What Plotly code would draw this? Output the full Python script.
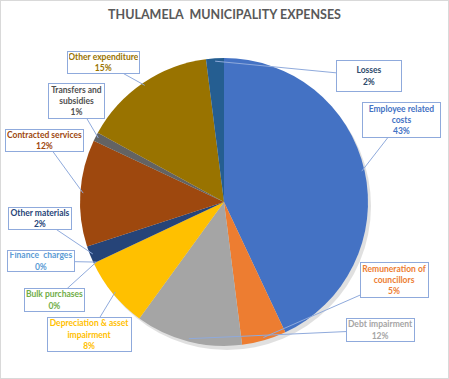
import math
import plotly.graph_objects as go

W, H = 449, 379

labels = ["Employee related costs", "Remuneration of councillors", "Debt impairment",
          "Depreciation & asset impairment", "Bulk purchases", "Finance charges",
          "Other materials", "Contracted services", "Transfers and subsidies",
          "Other expenditure", "Losses"]
values = [43, 5, 12, 8, 0, 0, 2, 12, 1, 15, 2]
colors = ["#4472C4", "#ED7D31", "#A5A5A5", "#FFC000", "#70AD47", "#5B9BD5",
          "#264478", "#9E480E", "#636363", "#997300", "#255E91"]
text_colors = ["#4472C4", "#ED7D31", "#A5A5A5", "#FFC000", "#70AD47", "#5B9BD5",
               "#264478", "#9E480E", "#505050", "#997300", "#2E4A6B"]
box_text = ["Employee related<br>costs", "Remuneration of<br>councillors", "Debt impairment",
            "Depreciation & asset<br>impairment", "Bulk purchases", "Finance  charges",
            "Other materials", "Contracted services", "Transfers and<br>subsidies",
            "Other expenditure", "Losses"]
# box centre (px) and size (px) - layout
boxes = [(401.5, 120, 79, 36), (394.5, 280, 69, 36), (380.5, 330, 69, 24),
         (89.5, 334.5, 85, 35), (54.5, 300, 61, 24), (41, 261, 68, 22),
         (40, 218.5, 64, 23), (44.5, 140, 79, 23), (76.5, 101, 57, 36),
         (103.5, 62.5, 73, 23), (369, 76, 66, 32)]

cx, cy, r = 224, 202, 144

fig = go.Figure()
# shadow
fig.add_trace(go.Pie(values=[1], marker=dict(colors=["rgba(0,0,0,0.12)"], line=dict(width=0)),
                     textinfo="none", hoverinfo="skip", showlegend=False, sort=False,
                     domain=dict(x=[(cx - r + 3) / W, (cx + r + 3) / W],
                                 y=[1 - (cy + r + 4) / H, 1 - (cy - r + 4) / H])))
fig.add_trace(go.Pie(labels=labels, values=values, sort=False, direction="clockwise",
                     rotation=0, marker=dict(colors=colors, line=dict(width=0)),
                     textinfo="none", showlegend=False,
                     domain=dict(x=[(cx - r) / W, (cx + r) / W],
                                 y=[1 - (cy + r) / H, 1 - (cy - r) / H])))

total = sum(values)
cum = 0
annotations = []
for i, v in enumerate(values):
    mid = (cum + v / 2) / total
    cum += v
    ang = 2 * math.pi * mid
    tx = cx + r * 0.98 * math.sin(ang)
    ty = cy - r * 0.98 * math.cos(ang)
    bx, by, bw, bh = boxes[i]
    pct = round(100 * v / total)
    annotations.append(dict(
        x=tx / W, y=1 - ty / H, xref="paper", yref="paper",
        ax=bx - tx, ay=by - ty, axref="pixel", ayref="pixel",
        text=f"<b>{box_text[i]}<br>{pct}%</b>",
        showarrow=True, arrowhead=0, arrowwidth=1, arrowcolor="#8FAADC", standoff=0,
        bordercolor="#8FAADC", borderwidth=1, borderpad=1, bgcolor="white",
        width=bw - 4, height=bh - 4, align="center", valign="middle",
        font=dict(family="Lato, Open Sans, sans-serif", size=8.5, color=text_colors[i])))

fig.update_layout(
    width=W, height=H, margin=dict(l=0, r=0, t=0, b=0),
    paper_bgcolor="white", plot_bgcolor="white",
    title=dict(text="<b>THULAMELA  MUNICIPALITY EXPENSES</b>", x=0.5, xanchor="center",
               y=1 - 15 / H, yanchor="middle",
               font=dict(family="Lato, Open Sans, sans-serif", size=12.5, color="#595959")),
    annotations=annotations,
    shapes=[dict(type="rect", xref="paper", yref="paper", x0=0, y0=0, x1=1, y1=1,
                 line=dict(color="#D9D9D9", width=2), fillcolor="rgba(0,0,0,0)")],
)
fig.write_html("out.html")
